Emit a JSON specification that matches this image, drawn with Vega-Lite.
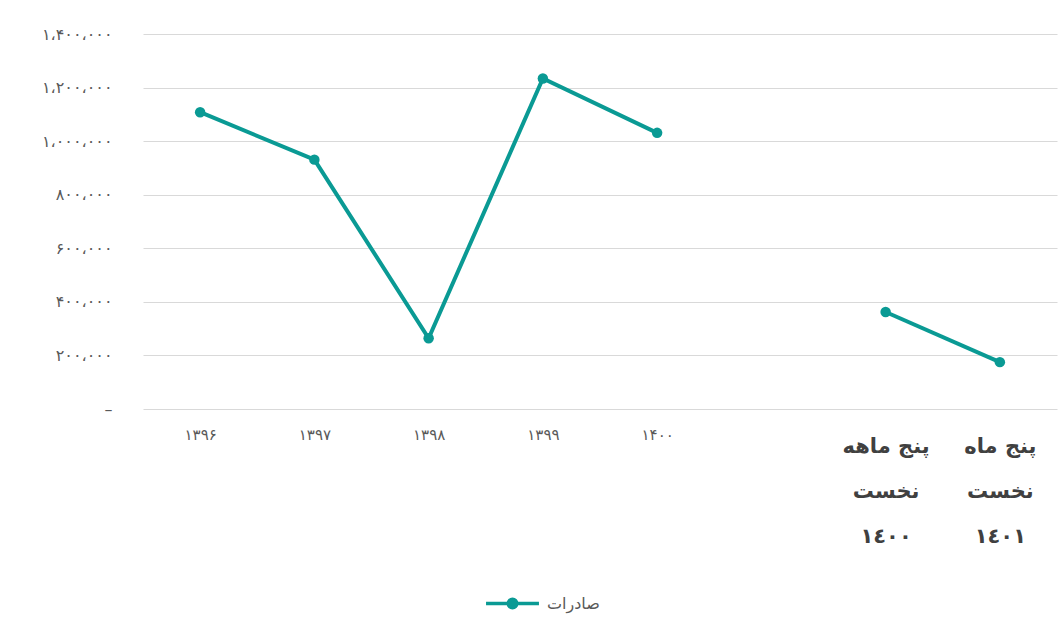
{
  "$schema": "https://vega.github.io/schema/vega-lite/v6.json",
  "width": 914,
  "height": 375,
  "autosize": "none",
  "padding": {"left": 143, "top": 34, "right": 1, "bottom": 221},
  "background": "white",
  "config": {
    "view": {"stroke": null},
    "font": "DejaVu Sans"
  },
  "data": {
    "values": [
      {"year": "۱۳۹۶", "group": "annual", "value": 1108000},
      {"year": "۱۳۹۷", "group": "annual", "value": 931000},
      {"year": "۱۳۹۸", "group": "annual", "value": 264000},
      {"year": "۱۳۹۹", "group": "annual", "value": 1234000},
      {"year": "۱۴۰۰", "group": "annual", "value": 1031000},
      {"year": "پنج ماهه\nنخست\n١٤٠٠", "group": "five", "value": 362000},
      {"year": "پنج ماه\nنخست\n١٤٠١", "group": "five", "value": 175000}
    ]
  },
  "mark": {"type": "line", "strokeWidth": 4, "point": {"size": 110, "filled": true, "opacity": 1}},
  "encoding": {
    "x": {
      "field": "year",
      "type": "ordinal",
      "sort": null,
      "scale": {
        "type": "point",
        "padding": 0.5,
        "domain": ["۱۳۹۶", "۱۳۹۷", "۱۳۹۸", "۱۳۹۹", "۱۴۰۰", " ", "پنج ماهه\nنخست\n١٤٠٠", "پنج ماه\nنخست\n١٤٠١"]
      },
      "axis": {
        "title": null,
        "domain": false,
        "ticks": false,
        "grid": false,
        "labelAngle": 0,
        "labelPadding": {"condition": {"test": "length(datum.value) > 5", "value": 26}, "value": 18},
        "labelBaseline": "top",
        "labelLineHeight": 45,
        "labelColor": {"condition": {"test": "length(datum.value) > 5", "value": "#404040"}, "value": "#595959"},
        "labelFontSize": {"condition": {"test": "length(datum.value) > 5", "value": 21}, "value": 15},
        "labelFontWeight": {"condition": {"test": "length(datum.value) > 5", "value": "bold"}, "value": "normal"},
        "labelExpr": "split(datum.label, '\\n')"
      }
    },
    "y": {
      "field": "value",
      "type": "quantitative",
      "scale": {"domain": [0, 1400000], "nice": false, "zero": true},
      "axis": {
        "title": null,
        "domain": false,
        "ticks": false,
        "values": [0, 200000, 400000, 600000, 800000, 1000000, 1200000, 1400000],
        "gridColor": "#D9D9D9",
        "gridWidth": 1,
        "labelPadding": 31,
        "labelFontSize": 16,
        "labelColor": "#595959",
        "labelExpr": "datum.value == 0 ? '–' : datum.value == 200000 ? '۲۰۰،۰۰۰' : datum.value == 400000 ? '۴۰۰،۰۰۰' : datum.value == 600000 ? '۶۰۰،۰۰۰' : datum.value == 800000 ? '۸۰۰،۰۰۰' : datum.value == 1000000 ? '۱،۰۰۰،۰۰۰' : datum.value == 1200000 ? '۱،۲۰۰،۰۰۰' : '۱،۴۰۰،۰۰۰'"
      }
    },
    "detail": {"field": "group"},
    "color": {
      "datum": "صادرات",
      "scale": {"range": ["#0A9A94"]},
      "legend": {
        "title": null,
        "orient": "none",
        "legendX": 341,
        "legendY": 541,
        "symbolType": "M-1,0L1,0M-0.16,0A0.16,0.16,0,1,1,0.16,0A0.16,0.16,0,1,1,-0.16,0Z",
        "symbolSize": 2800,
        "symbolStrokeWidth": 3.5,
        "symbolFillColor": "#0A9A94",
        "symbolStrokeColor": "#0A9A94",
        "labelFontSize": 16,
        "labelColor": "#595959",
        "labelOffset": 6
      }
    }
  }
}
